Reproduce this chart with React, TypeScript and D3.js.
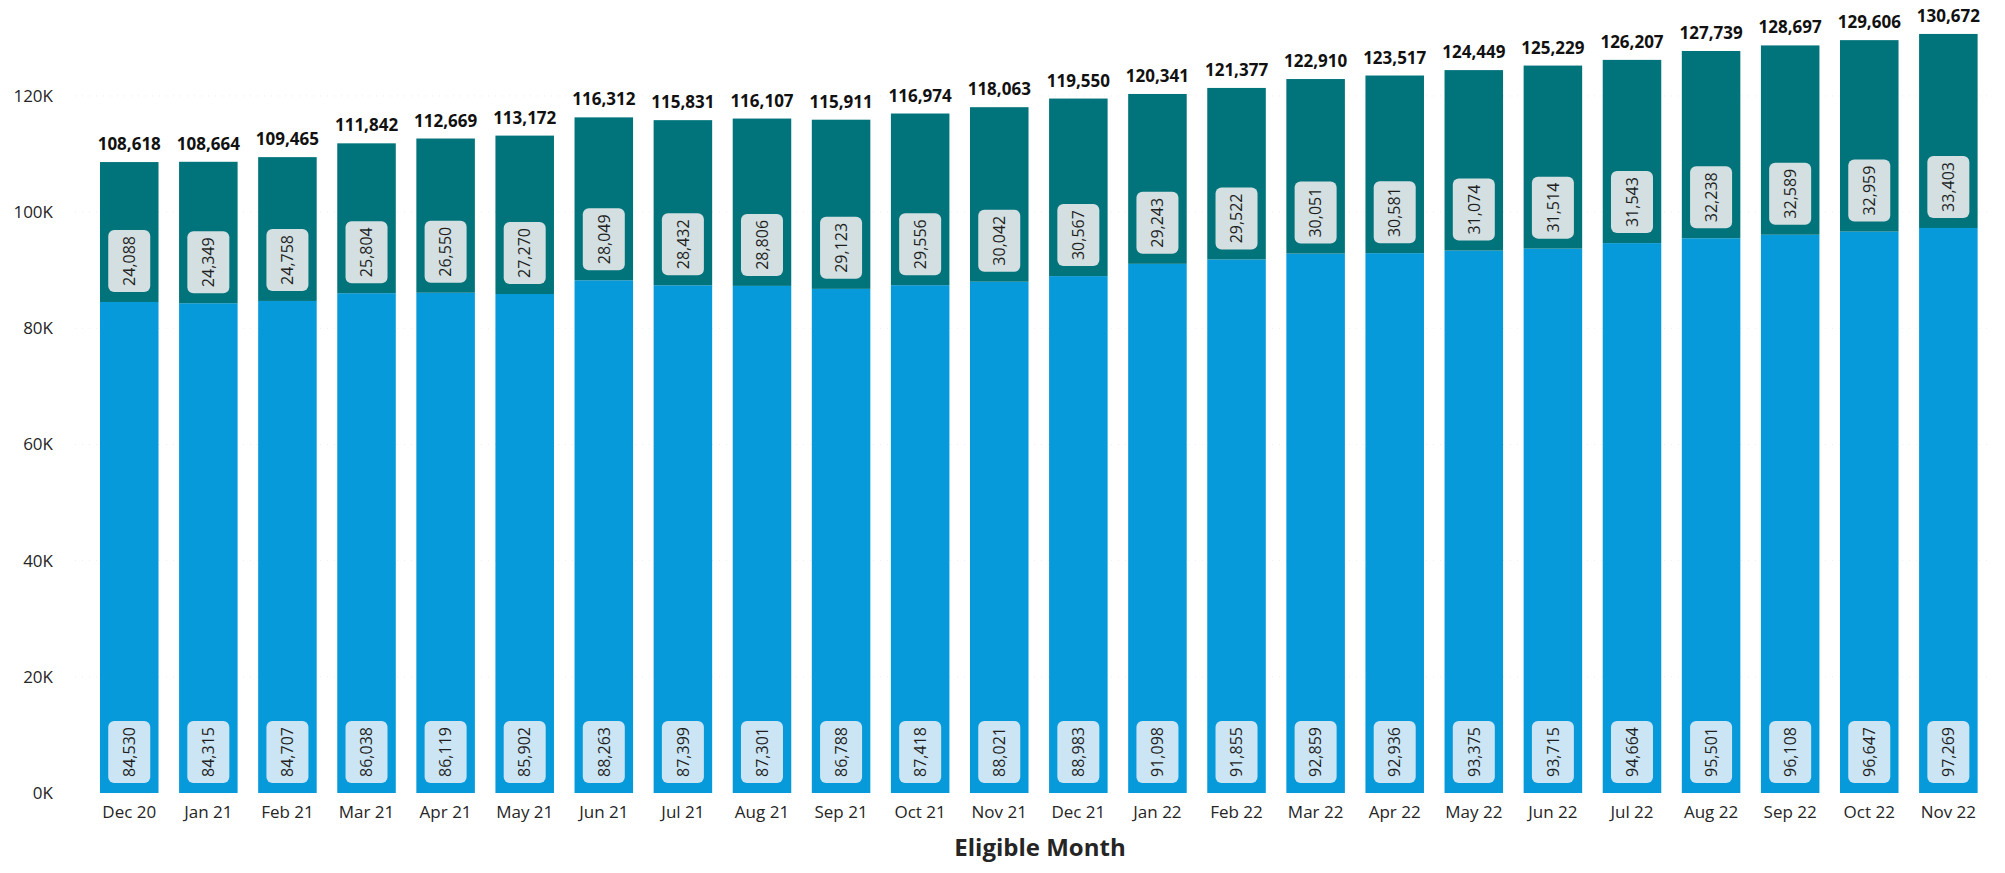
import { useEffect, useRef } from 'react';
import * as d3 from 'd3';

const months = [
  'Dec 20', 'Jan 21', 'Feb 21', 'Mar 21', 'Apr 21', 'May 21', 'Jun 21', 'Jul 21',
  'Aug 21', 'Sep 21', 'Oct 21', 'Nov 21', 'Dec 21', 'Jan 22', 'Feb 22', 'Mar 22',
  'Apr 22', 'May 22', 'Jun 22', 'Jul 22', 'Aug 22', 'Sep 22', 'Oct 22', 'Nov 22',
];

// lower (light blue) segment
const baseValues = [
  84530, 84315, 84707, 86038, 86119, 85902, 88263, 87399,
  87301, 86788, 87418, 88021, 88983, 91098, 91855, 92859,
  92936, 93375, 93715, 94664, 95501, 96108, 96647, 97269,
];

// upper (teal) segment
const topValues = [
  24088, 24349, 24758, 25804, 26550, 27270, 28049, 28432,
  28806, 29123, 29556, 30042, 30567, 29243, 29522, 30051,
  30581, 31074, 31514, 31543, 32238, 32589, 32959, 33403,
];

const yTicks = [0, 20000, 40000, 60000, 80000, 100000, 120000];

const WIDTH = 2005;
const HEIGHT = 873;
const FONT = '"Open Sans", "Noto Sans", sans-serif';

const App = () => {
  const ref = useRef<SVGSVGElement>(null);

  useEffect(() => {
    const svg = d3.select(ref.current)
      .attr('width', WIDTH)
      .attr('height', HEIGHT);
    svg.selectAll('*').remove();

    const x = d3.scaleBand()
      .domain(months)
      .range([89.7, 1987.9])
      .paddingInner(0.26)
      .paddingOuter(0.13);

    const y = d3.scaleLinear()
      .domain([0, 136000])
      .range([793, 3]);

    const rows = months.map((m, i) => ({
      month: m,
      base: baseValues[i],
      top: topValues[i],
      total: baseValues[i] + topValues[i],
    }));

    const fmt = d3.format(',');

    // faint gridlines
    svg.append('g')
      .selectAll('line')
      .data(yTicks.slice(1))
      .join('line')
      .attr('x1', 75)
      .attr('x2', 1990)
      .attr('y1', (d) => y(d))
      .attr('y2', (d) => y(d))
      .attr('stroke', '#eeeeee')
      .attr('stroke-dasharray', '1,6');

    // y axis labels
    svg.append('g')
      .selectAll('text')
      .data(yTicks)
      .join('text')
      .attr('x', 53)
      .attr('y', (d) => y(d))
      .attr('dy', '0.35em')
      .attr('text-anchor', 'end')
      .attr('font-family', FONT)
      .attr('font-size', 17)
      .attr('fill', '#252525')
      .text((d) => `${d / 1000}K`);

    const bars = svg.append('g')
      .selectAll('g')
      .data(rows)
      .join('g')
      .attr('transform', (d) => `translate(${x(d.month)},0)`);

    const bw = x.bandwidth();

    bars.append('rect')
      .attr('x', 0)
      .attr('width', bw)
      .attr('y', (d) => y(d.base))
      .attr('height', (d) => y(0) - y(d.base))
      .attr('fill', '#069ADB');

    bars.append('rect')
      .attr('x', 0)
      .attr('width', bw)
      .attr('y', (d) => y(d.total))
      .attr('height', (d) => y(d.base) - y(d.total))
      .attr('fill', '#01737A');

    const boxW = 42;
    const boxH = 62;

    // inside-base labels for each segment
    const segs = [
      { key: 'base', bottom: (d) => y(0), value: (d) => d.base, fill: '#CCE5F4' },
      { key: 'top', bottom: (d) => y(d.base), value: (d) => d.top, fill: '#D4DFE2' },
    ];

    segs.forEach((s) => {
      const lab = bars.append('g')
        .attr('transform', (d) => `translate(${bw / 2},${s.bottom(d) - 10 - boxH / 2})`);
      lab.append('rect')
        .attr('x', -boxW / 2)
        .attr('y', -boxH / 2)
        .attr('width', boxW)
        .attr('height', boxH)
        .attr('rx', 6)
        .attr('fill', s.fill);
      lab.append('text')
        .attr('transform', 'rotate(-90)')
        .attr('text-anchor', 'middle')
        .attr('dy', '0.36em')
        .attr('font-family', FONT)
        .attr('font-size', 16)
        .attr('fill', '#1f1f1f')
        .text((d) => fmt(s.value(d)));
    });

    // totals
    bars.append('text')
      .attr('x', bw / 2)
      .attr('y', (d) => y(d.total) - 12)
      .attr('text-anchor', 'middle')
      .attr('font-family', FONT)
      .attr('font-weight', 700)
      .attr('font-size', 17)
      .attr('fill', '#111')
      .text((d) => fmt(d.total));

    // x axis labels
    bars.append('text')
      .attr('x', bw / 2)
      .attr('y', 818)
      .attr('text-anchor', 'middle')
      .attr('font-family', FONT)
      .attr('font-size', 17)
      .attr('fill', '#252525')
      .text((d) => d.month);

    svg.append('text')
      .attr('x', 1040)
      .attr('y', 856)
      .attr('text-anchor', 'middle')
      .attr('font-family', FONT)
      .attr('font-weight', 700)
      .attr('font-size', 24)
      .attr('fill', '#252525')
      .text('Eligible Month');
  }, []);

  return (
    <svg
      ref={ref}
      style={{ position: 'absolute', left: 0, top: 0, background: '#fff' }}
    ></svg>
  );
};

export default App;
